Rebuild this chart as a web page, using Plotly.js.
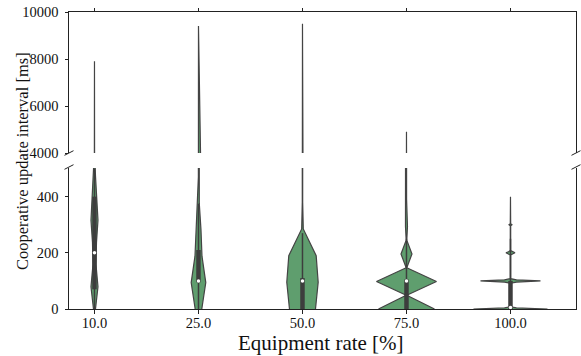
<!DOCTYPE html>
<html>
<head>
<meta charset="utf-8">
<script src="https://cdn.plot.ly/plotly-3.0.1.min.js"></script>
<style>html,body{margin:0;padding:0;background:#fff;}#chart{width:581px;height:356px;}</style>
</head>
<body>
<div id="chart"></div>
<script>
// ---------- data ----------
const categories = ['10.0', '25.0', '50.0', '75.0', '100.0'];
const maxValues = [7900, 9400, 9500, 4900, 400];
const lowerTicks = [0, 200, 400];
const upperTicks = [4000, 6000, 8000, 10000];

// kernel-density profiles (value, relative density)
const dens10_y  = [0, 79, 158, 237, 316, 395, 474, 553];
const dens10_w  = [1.0, 3.5, 1.5, 2.0, 3.5, 2.0, 1.0, 0.2];
const dens25_y  = [0, 94, 188, 282, 376, 470];
const dens25_w  = [3.3, 7.3, 3.5, 2.5, 0.8, 0.1];
const dens50_y  = [0, 95, 190, 285, 380];
const dens50_w  = [13, 15.7, 13.7, 0.8, 0.2];
const dens75_y  = [0, 49, 98, 147, 196, 245, 294, 343, 392];
const dens75_w  = [28, 0.3, 30, 0.3, 5.5, 0.3, 1.0, 0.6, 0.1];
const dens100_y = [0, 4, 8, 92, 96, 100, 104, 108, 192, 196, 200, 204, 208, 296, 300, 304];
const dens100_w = [37, 6, 0.2, 0.2, 6, 30, 6, 0.2, 0.2, 2, 4.5, 2, 0.2, 0.2, 1.5, 0.2];

// inner box statistics
const q1Values     = [70, 95, 0, 0, 0];
const medianValues = [200, 100, 100, 100, 5];
const q3Values     = [400, 210, 110, 105, 100];
const whiskerLow   = [0, 0, 0, 0, 0];
const whiskerHigh  = [500, 375, 270, 250, 250];

// ---------- build ----------
const densY = [dens10_y, dens25_y, dens50_y, dens75_y, dens100_y];
const densW = [dens10_w, dens25_w, dens50_w, dens75_w, dens100_w];
const widthScale = 1 / 104;
const fillColor = '#5f9e6e';
const edgeColor = '#444444';
const boxColor = '#3d3d3d';

const traces = [];
categories.forEach((c, i) => {
  const ys = densY[i].slice();
  const ws = densW[i].slice();
  ys.push(maxValues[i]); ws.push(0);
  const px = [], py = [];
  for (let k = 0; k < ys.length; k++) { px.push(i - ws[k] * widthScale); py.push(ys[k]); }
  for (let k = ys.length - 1; k >= 0; k--) { px.push(i + ws[k] * widthScale); py.push(ys[k]); }
  ['y', 'y2'].forEach(ax => {
    traces.push({
      type: 'scatter', mode: 'lines', x: px, y: py, xaxis: ax === 'y' ? 'x' : 'x2', yaxis: ax,
      fill: 'toself', fillcolor: fillColor,
      line: {color: edgeColor, width: 1.2}, hoverinfo: 'skip', showlegend: false
    });
  });
});
categories.forEach((c, i) => {
  traces.push({type: 'scatter', mode: 'lines', x: [i, i], y: [whiskerLow[i], whiskerHigh[i]],
    line: {color: boxColor, width: 1.5}, hoverinfo: 'skip', showlegend: false});
  traces.push({type: 'scatter', mode: 'lines', x: [i, i], y: [q1Values[i], q3Values[i]],
    line: {color: boxColor, width: 4.5}, hoverinfo: 'skip', showlegend: false});
});
traces.push({type: 'scatter', mode: 'markers', x: categories.map((c, i) => i), y: medianValues,
  marker: {color: '#ffffff', size: 3.5, line: {width: 0}}, hoverinfo: 'skip', showlegend: false, cliponaxis: false});

// ---------- layout ----------
const L = 69, R = 576, T = 12, B = 309;
const W = R - L, H = B - T;
const px2x = p => (p - L) / W;
const px2y = p => (B - p) / H;
const font = 'Liberation Serif, Times New Roman, serif';
const axisCommon = {
  showline: true, linecolor: '#222', linewidth: 1, showgrid: false, zeroline: false,
  ticks: 'outside', ticklen: 3.5, tickwidth: 1, tickcolor: '#222',
  tickfont: {family: font, size: 14.5, color: '#111'}
};
const breakMark = (cx, cy) => ({type: 'line', xref: 'paper', yref: 'paper',
  x0: px2x(cx - 4.5), y0: px2y(cy + 2.3), x1: px2x(cx + 4.5), y1: px2y(cy - 2.3),
  line: {color: '#222', width: 1}});

const layout = {
  width: 581, height: 356,
  margin: {l: L, r: 581 - R, t: T, b: 356 - B},
  paper_bgcolor: '#fff', plot_bgcolor: '#fff',
  showlegend: false,
  xaxis: Object.assign({}, axisCommon, {
    anchor: 'y', range: [-0.245, 4.63], tickvals: [0, 1, 2, 3, 4], ticktext: categories,
    ticklabelstandoff: -3
  }),
  xaxis2: Object.assign({}, axisCommon, {
    anchor: 'y2', side: 'top', matches: 'x', range: [-0.245, 4.63],
    tickvals: [0, 1, 2, 3, 4], showticklabels: false
  }),
  yaxis: Object.assign({}, axisCommon, {
    anchor: 'x', domain: [0, 141 / H], range: [0, 502], tickvals: lowerTicks,
    ticktext: lowerTicks.map(String), mirror: true, ticklabelstandoff: 3
  }),
  yaxis2: Object.assign({}, axisCommon, {
    anchor: 'x2', domain: [156 / H, 1], range: [4000, 10000], tickvals: upperTicks,
    ticktext: upperTicks.map(String), mirror: true, ticklabelstandoff: 3
  }),
  shapes: [breakMark(69, 153), breakMark(69, 167), breakMark(576, 153), breakMark(576, 167)],
  annotations: [
    {text: 'Equipment rate [%]', xref: 'paper', yref: 'paper', x: px2x(321), y: px2y(343),
     xanchor: 'center', yanchor: 'middle', showarrow: false, font: {family: font, size: 21, color: '#111'}},
    {text: 'Cooperative update interval [ms]', xref: 'paper', yref: 'paper', x: px2x(22), y: px2y(161),
     xanchor: 'center', yanchor: 'middle', textangle: -90, showarrow: false, font: {family: font, size: 16.5, color: '#111'}}
  ]
};

Plotly.newPlot('chart', traces, layout, {displayModeBar: false, staticPlot: true});
</script>
</body>
</html>
